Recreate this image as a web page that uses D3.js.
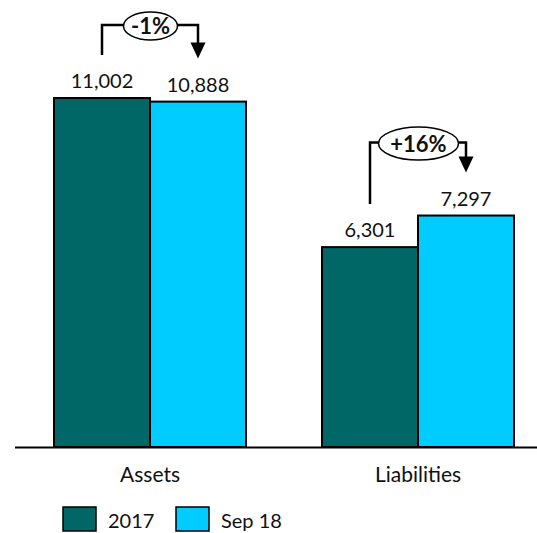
<!DOCTYPE html>
<html>
<head>
<meta charset="utf-8">
<script src="https://cdn.jsdelivr.net/npm/d3@7"></script>
<style>
  html, body { margin: 0; padding: 0; background: #fff; }
  svg { display: block; font-family: Lato, "Open Sans", sans-serif; }
</style>
</head>
<body>
<svg id="chart" width="537" height="533"></svg>
<script>
// Balance sheet totals, two periods per category
const categories = ["Assets", "Liabilities"];
const seriesNames = ["2017", "Sep 18"];
const values2017 = [11002, 6301];
const valuesSep18 = [10888, 7297];
const changeLabels = ["-1%", "+16%"];

const colors = { "2017": "#006666", "Sep 18": "#00CCFF" };
const seriesValues = { "2017": values2017, "Sep 18": valuesSep18 };

const svg = d3.select("#chart");
const W = 537;
const baseY = 447;

const x0 = d3.scaleBand().domain(categories).range([16, 552]).paddingInner(0).paddingOuter(0);
const x1 = d3.scaleBand().domain(seriesNames).range([0, 192]);
const y = d3.scaleLinear().domain([0, 12000]).range([baseY, baseY - 12000 * (349 / 11002)]);

const groupLeft = c => x0(c) + x0.bandwidth() / 2 - 96;
const fmt = d3.format(",");

// bars
categories.forEach((c, i) => {
  seriesNames.forEach(s => {
    const v = seriesValues[s][i];
    const bx = groupLeft(c) + x1(s);
    svg.append("rect")
      .attr("x", bx).attr("y", y(v))
      .attr("width", x1.bandwidth()).attr("height", baseY - y(v))
      .attr("fill", colors[s]).attr("stroke", "#000").attr("stroke-width", 2);
    svg.append("text")
      .attr("x", bx + x1.bandwidth() / 2).attr("y", y(v) - 10)
      .attr("text-anchor", "middle").attr("font-size", 20).attr("fill", "#111")
      .text(fmt(v));
  });
});

// category axis
const xAxis = svg.append("g").attr("transform", `translate(0,${baseY})`)
  .call(d3.axisBottom(x0).tickSize(0).tickPadding(0));
xAxis.select(".domain").remove();
xAxis.selectAll("text").attr("font-size", 21).attr("font-family", "Lato, 'Open Sans', sans-serif")
  .attr("fill", "#111").attr("dy", null).attr("y", 35);
svg.append("line").attr("x1", 15).attr("x2", W).attr("y1", baseY + 0.5).attr("y2", baseY + 0.5)
  .attr("stroke", "#000").attr("stroke-width", 2);

// change connectors between the two bars of each group
const bubbleSize = [{ rx: 27, ry: 14 }, { rx: 40, ry: 16.5 }];
categories.forEach((c, i) => {
  const a = values2017[i], b = valuesSep18[i];
  const ax = groupLeft(c) + x1("2017") + x1.bandwidth() / 2;
  const bxc = groupLeft(c) + x1("Sep 18") + x1.bandwidth() / 2;
  const topV = Math.max(a, b);
  const lineY = y(topV) - 73;
  const startY = y(a) - 43;
  const tipY = y(b) - 43;
  const cx = (ax + bxc) / 2 + 0.5;
  const { rx, ry } = bubbleSize[i];
  const cy = lineY + 1;
  const g = svg.append("g");
  g.append("path")
    .attr("d", `M${ax},${startY}V${lineY}H${cx - rx}M${cx + rx},${lineY}H${bxc}V${tipY - 15}`)
    .attr("fill", "none").attr("stroke", "#000").attr("stroke-width", 2.5);
  g.append("path")
    .attr("d", `M${bxc - 7.5},${tipY - 16}L${bxc + 7.5},${tipY - 16}L${bxc},${tipY}Z`)
    .attr("fill", "#000");
  g.append("ellipse").attr("cx", cx).attr("cy", cy).attr("rx", rx).attr("ry", ry)
    .attr("fill", "#fff").attr("stroke", "#000").attr("stroke-width", 1.5);
  g.append("text").attr("x", cx).attr("y", cy + 8).attr("text-anchor", "middle")
    .attr("font-size", 22).attr("font-weight", "bold").attr("fill", "#111").text(changeLabels[i]);
});

// legend
const legendItems = [{ s: "2017", x: 63 }, { s: "Sep 18", x: 176 }];
legendItems.forEach(d => {
  svg.append("rect").attr("x", d.x).attr("y", 507).attr("width", 33).attr("height", 24)
    .attr("fill", colors[d.s]).attr("stroke", "#000").attr("stroke-width", 1.5);
  svg.append("text").attr("x", d.x + 45).attr("y", 528).attr("font-size", 20).attr("fill", "#111").text(d.s);
});
</script>
</body>
</html>
